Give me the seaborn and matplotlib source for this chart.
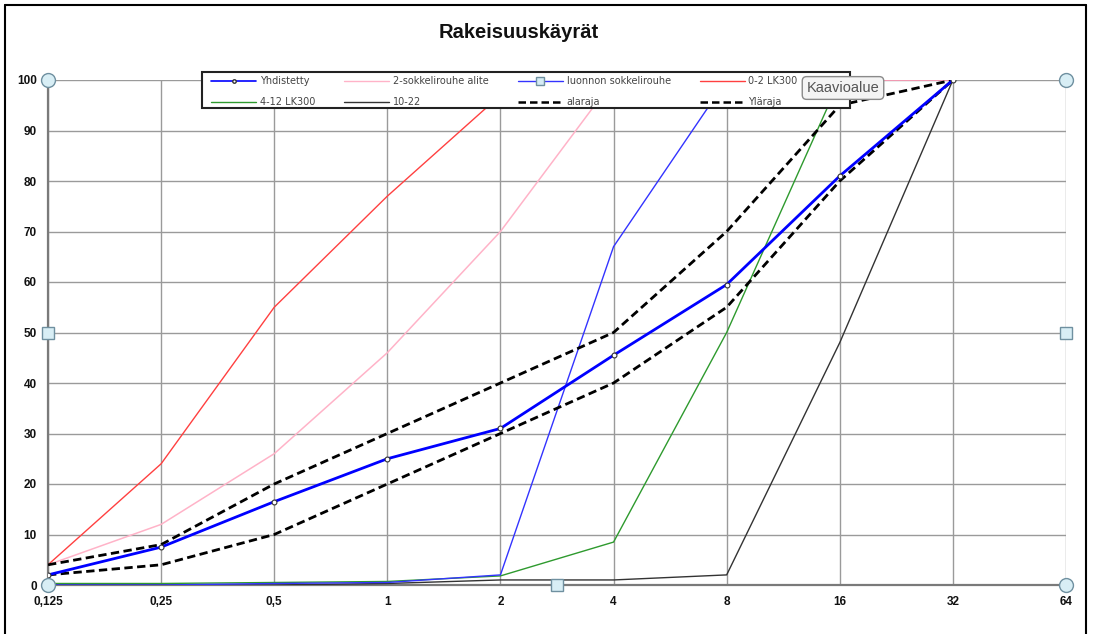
import numpy as np
import pandas as pd
import matplotlib
matplotlib.use("Agg")
import matplotlib.pyplot as plt
import seaborn as sns
from matplotlib.lines import Line2D
from matplotlib.patches import Rectangle

# ---- data ----
categories = ["0,125", "0,25", "0,5", "1", "2", "4", "8", "16", "32", "64"]
yhdistetty = [2, 7.5, 16.5, 25, 31, 45.5, 59.5, 81, 100]
sokkeli_alite = [4, 12, 26, 46, 70, 100, 100, 100, 100]
luonnon_sokkeli = [0, 0, 0.3, 0.5, 2, 67, 100, 100, 100]
lk300_0_2 = [4, 24, 55, 77, 97, 100, 100, 100, 100]
lk300_4_12 = [0.3, 0.3, 0.5, 0.7, 1.8, 8.5, 50, 100, 100]
fr_10_22 = [0, 0, 0, 0.3, 1, 1, 2, 48, 100]
alaraja = [2, 4, 10, 20, 30, 40, 55, 80, 100]
ylaraja = [4, 8, 20, 30, 40, 50, 70, 95, 100]
y_ticks = [0, 10, 20, 30, 40, 50, 60, 70, 80, 90, 100]

series_names = ["Yhdistetty", "2-sokkelirouhe alite", "luonnon sokkelirouhe",
                "0-2 LK300", "4-12 LK300", "10-22", "alaraja", "Yläraja"]
series_vals = [yhdistetty, sokkeli_alite, luonnon_sokkeli, lk300_0_2,
               lk300_4_12, fr_10_22, alaraja, ylaraja]

rows = []
for name, vals in zip(series_names, series_vals):
    for i, v in enumerate(vals):
        rows.append({"pos": i, "cat": categories[i], "val": v, "series": name})
df = pd.DataFrame(rows)

styles = {
    "Yhdistetty": dict(color="#0000FF", lw=2.0, ls="-", marker="o", ms=3.5, mfc="white", mec="#333333"),
    "2-sokkelirouhe alite": dict(color="#FFB3C8", lw=1.1, ls="-"),
    "luonnon sokkelirouhe": dict(color="#3333FF", lw=1.0, ls="-"),
    "0-2 LK300": dict(color="#FF4040", lw=1.0, ls="-"),
    "4-12 LK300": dict(color="#2E9A2E", lw=1.0, ls="-"),
    "10-22": dict(color="#333333", lw=1.0, ls="-"),
    "alaraja": dict(color="#000000", lw=2.0, ls=(0, (3, 1.6))),
    "Yläraja": dict(color="#000000", lw=2.0, ls=(0, (3, 1.6))),
}

sns.set_theme(style="white")
plt.rcParams["font.family"] = ["Liberation Sans", "DejaVu Sans"]

W, H = 1094, 634
fig = plt.figure(figsize=(W / 100, H / 100), dpi=100)
ax = fig.add_axes([48 / W, 1 - 585 / H, (1066 - 48) / W, (585 - 80) / H])

draw_order = ["10-22", "4-12 LK300", "luonnon sokkelirouhe", "0-2 LK300",
              "2-sokkelirouhe alite", "alaraja", "Yläraja", "Yhdistetty"]
for name in draw_order:
    st = styles[name]
    sub = df[df["series"] == name]
    kw = dict(color=st["color"], linewidth=st["lw"], linestyle=st["ls"])
    if "marker" in st:
        kw.update(marker=st["marker"], markersize=st["ms"],
                  markerfacecolor=st["mfc"], markeredgecolor=st["mec"], markeredgewidth=0.8)
    sns.lineplot(data=sub, x="pos", y="val", ax=ax, legend=False, zorder=3, **kw)

ax.set_xlim(0, len(categories) - 1)
ax.set_ylim(0, 100)
ax.set_xticks(range(len(categories)))
ax.set_xticklabels(categories)
ax.set_yticks(y_ticks)
ax.set_xlabel("")
ax.set_ylabel("")
ax.grid(True, color="#9A9A9A", linewidth=1.0)
ax.set_axisbelow(True)
for s in ["top", "right"]:
    ax.spines[s].set_visible(False)
for s in ["left", "bottom"]:
    ax.spines[s].set_color("#7A7A7A")
    ax.spines[s].set_linewidth(1.6)
ax.tick_params(axis="both", which="both", direction="out", length=4, width=1,
               color="#555555", labelsize=8.5, labelcolor="#111111", pad=4)
for lab in ax.get_xticklabels() + ax.get_yticklabels():
    lab.set_fontweight("bold")

# legend (row-major order of the reference, converted to column-major)
def handle(name):
    st = styles[name]
    if name == "Yhdistetty":
        return Line2D([], [], color=st["color"], lw=1.2, marker="o", ms=2.5,
                      mfc="white", mec="#333333")
    if name == "luonnon sokkelirouhe":
        return Line2D([], [], color=st["color"], lw=1.0, marker="s", ms=6,
                      mfc="#D6ECF5", mec="#6F90A0")
    return Line2D([], [], color=st["color"], lw=1.0 if st["lw"] < 1.5 else 1.8,
                  ls=st["ls"])

# legend box frame (Excel style, fixed width)
fig.add_artist(Rectangle((202 / W, 1 - 108 / H), (850 - 202) / W, 36 / H,
                         transform=fig.transFigure, facecolor="white",
                         edgecolor="#222222", linewidth=1.5, zorder=9))

order = ["Yhdistetty", "4-12 LK300", "2-sokkelirouhe alite", "10-22",
         "luonnon sokkelirouhe", "alaraja", "0-2 LK300", "Yläraja"]
leg = fig.legend([handle(n) for n in order], order, ncol=4,
                 loc="upper left", bbox_to_anchor=(203 / W, 1 - 68 / H),
                 frameon=False,
                 prop={"family": "DejaVu Sans", "size": 7},
                 handlelength=4.6, columnspacing=3.0, labelspacing=1.15,
                 borderpad=0.35, handletextpad=0.4)
for t in leg.get_texts():
    t.set_color("#444444")
leg.set_zorder(10)

# title
fig.text(519 / W, 1 - 33 / H, "Rakeisuuskäyrät", ha="center", va="center",
         fontsize=14.5, fontweight="bold", color="#111111")

# selection handles of the chart area
hkw = dict(transform=ax.transAxes, clip_on=False, zorder=12, linestyle="none",
           markerfacecolor="#D8EEF5", markeredgecolor="#6F90A0", markeredgewidth=1)
for (xx, yy) in [(0, 0), (1, 0), (0, 1), (1, 1)]:
    ax.plot([xx], [yy], marker="o", markersize=10, **hkw)
for (xx, yy) in [(0, 0.5), (1, 0.5), (0.5, 0)]:
    ax.plot([xx], [yy], marker="s", markersize=8, **hkw)

# tooltip
fig.text(843 / W, 1 - 88 / H, "Kaavioalue", ha="center", va="center",
         fontsize=10.5, color="#555555", zorder=20,
         bbox=dict(boxstyle="round,pad=0.3", fc="#F4F4F4", ec="#8A8A8A", lw=1))

# outer frame
fig.add_artist(Line2D([5 / W, 5 / W], [0, 1 - 5 / H], color="black", lw=1.5,
                      transform=fig.transFigure))
fig.add_artist(Line2D([5 / W, 1086 / W], [1 - 5 / H, 1 - 5 / H], color="black",
                      lw=1.5, transform=fig.transFigure))
fig.add_artist(Line2D([1086 / W, 1086 / W], [0, 1 - 5 / H], color="black", lw=1.5,
                      transform=fig.transFigure))

fig.savefig("out.png", dpi=100)
